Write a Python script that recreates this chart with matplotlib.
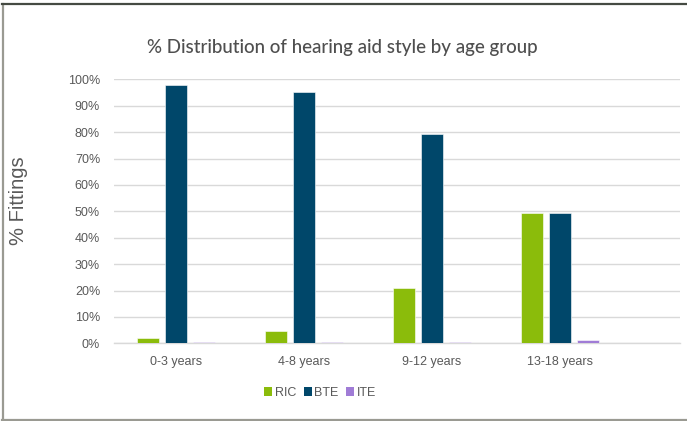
import matplotlib
matplotlib.use("Agg")
import matplotlib.pyplot as plt
import numpy as np
from matplotlib.lines import Line2D
from matplotlib.patches import Patch

categories = ["0-3 years", "4-8 years", "9-12 years", "13-18 years"]
series_names = ["RIC", "BTE", "ITE"]
ric = [0.021, 0.047, 0.208, 0.495]
bte = [0.978, 0.952, 0.792, 0.492]
ite = [0.004, 0.004, 0.004, 0.012]
yticks = [0, 0.1, 0.2, 0.3, 0.4, 0.5, 0.6, 0.7, 0.8, 0.9, 1.0]
ytick_labels = ["0%", "10%", "20%", "30%", "40%", "50%", "60%", "70%", "80%", "90%", "100%"]
colors = ["#8BBC0B", "#00476A", "#A07CD6"]

W, H = 687, 421
fig = plt.figure(figsize=(W / 100, H / 100), dpi=100)
ax = fig.add_axes([114 / W, (H - 343.3) / H, (680 - 114) / W, (343.3 - 79.3) / H])

x = np.arange(len(categories))
bw = 22 / 128
off = 28 / 128
for i, (vals, c, name) in enumerate(zip([ric, bte, ite], colors, series_names)):
    ax.bar(x + (i - 1) * off, vals, width=bw, color=c, label=name, zorder=3,
           edgecolor="white", linewidth=0.4)

ax.set_xlim((114 - 176) / 128, (680 - 176) / 128)
ax.set_ylim(0, 1.0)
ax.set_yticks(yticks)
ax.set_yticklabels(ytick_labels)
ax.set_xticks(x)
ax.set_xticklabels(categories)
ax.grid(axis="y", color="#D9D9D9", linewidth=1.0, zorder=0)
ax.set_axisbelow(True)
for s in ["top", "right", "left"]:
    ax.spines[s].set_visible(False)
ax.spines["bottom"].set_color("#D9D9D9")
ax.spines["bottom"].set_linewidth(1.0)
ax.tick_params(axis="both", length=0, colors="#595959", labelsize=9)
ax.tick_params(axis="y", pad=10)
ax.tick_params(axis="x", pad=9)
for lbl in ax.get_xticklabels() + ax.get_yticklabels():
    lbl.set_fontfamily("Liberation Sans")

fig.text(342 / W, 1 - 48 / H, "% Distribution of hearing aid style by age group",
         ha="center", va="center", fontsize=13.5, color="#4F4F4F", family="Lato",
         weight="medium")
fig.text(19 / W, 1 - 201 / H, "% Fittings", rotation=90, ha="center", va="center",
         fontsize=14.5, color="#595959", family="Liberation Sans")

handles = [Patch(facecolor=c, edgecolor="none") for c in colors]
leg = fig.legend(handles, series_names, loc="center", bbox_to_anchor=(320 / W, 1 - 393 / H),
                 ncol=3, frameon=False, handlelength=0.65, handleheight=0.65,
                 handletextpad=0.2, columnspacing=0.6,
                 prop={"family": "Liberation Sans", "size": 9})
for t in leg.get_texts():
    t.set_color("#595959")

# outer border (left, top, bottom)
fig.add_artist(Line2D([2.5 / W, 2.5 / W], [1 - 4 / H, 1 - 419.5 / H], color="#9A9A92", linewidth=1.6, transform=fig.transFigure))
fig.add_artist(Line2D([2 / W, 1.0], [1 - 4 / H, 1 - 4 / H], color="#454A42", linewidth=1.6, transform=fig.transFigure))
fig.add_artist(Line2D([2 / W, 1.0], [1 - 419.5 / H, 1 - 419.5 / H], color="#9A9A92", linewidth=1.6, transform=fig.transFigure))

fig.savefig("out.png", dpi=100)
